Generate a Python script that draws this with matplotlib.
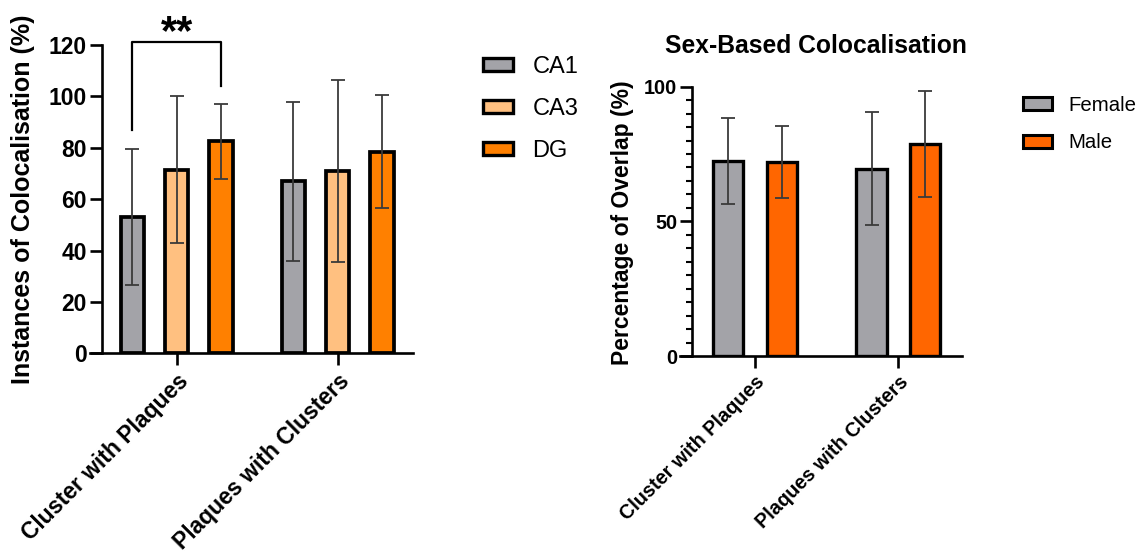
import numpy as np
import matplotlib
matplotlib.use("Agg")
import matplotlib.pyplot as plt
from matplotlib.patches import Patch

plt.rcParams['font.family'] = ['Liberation Sans', 'DejaVu Sans']
plt.rcParams['font.weight'] = 'bold'

# Data
groups = ["Cluster with Plaques", "Plaques with Clusters"]

regions = ["CA1", "CA3", "DG"]
region_means = [[53, 67], [71.5, 71], [82.5, 78.5]]
region_sd = [[26.5, 31], [28.7, 35.3], [14.5, 22]]
region_colors = ["#A3A3A8", "#FFC080", "#FF8000"]

sexes = ["Female", "Male"]
sex_means = [[72.5, 69.5], [72, 78.7]]
sex_sd = [[16, 21], [13.5, 19.7]]
sex_colors = ["#A3A3A8", "#FF6600"]

W, H = 1147, 554
fig = plt.figure(figsize=(W / 100, H / 100), dpi=100)


def px_axes(x0, x1, ybot, ytop):
    return fig.add_axes([x0 / W, 1 - ybot / H, (x1 - x0) / W, (ybot - ytop) / H])


def style_axes(ax, spine_x, fs):
    for s in ['top', 'right']:
        ax.spines[s].set_visible(False)
    ax.spines['left'].set_position(('data', spine_x))
    for s in ['left', 'bottom']:
        ax.spines[s].set_linewidth(1.9)
    ax.tick_params(axis='y', length=8.5, width=1.9, labelsize=fs, pad=2)
    ax.tick_params(axis='x', length=8.5, width=1.9, pad=3.5)
    ax.set_xticks([0, 1])
    ax.set_xticklabels(groups, rotation=45, ha='right', rotation_mode='anchor',
                       fontsize=fs, fontweight='bold')
    for lab in ax.get_yticklabels():
        lab.set_fontweight('bold')


# ---- Left panel: colocalisation per region
ax1 = px_axes(90, 413, 353.3, 45)
offsets = [-0.275, 0, 0.275]
x = np.arange(len(groups))
for i in range(len(regions)):
    ax1.bar(x + offsets[i], region_means[i], width=0.145, color=region_colors[i],
            edgecolor='black', linewidth=2.7, zorder=2)
    ax1.errorbar(x + offsets[i], region_means[i], yerr=region_sd[i], fmt='none',
                 ecolor='#3a3a3a', elinewidth=1.3, capsize=4.8, capthick=1.3, zorder=3)
ax1.set_xlim(-0.5385, 1.468)
ax1.set_ylim(0, 120)
ax1.set_yticks(np.arange(0, 121, 20))
style_axes(ax1, -0.466, 16.5)

# significance bracket
ax1.plot([offsets[0], offsets[0], offsets[2], offsets[2]], [87, 121, 121, 104],
         color='black', lw=1.6, clip_on=False)
ax1.text(0, 120.5, "**", ha='center', va='baseline', fontsize=30, fontweight='bold')

fig.text(23 / W, 1 - 199 / H, "Instances of Colocalisation (%)", rotation=90,
         ha='center', va='center', fontsize=18, fontweight='bold')

h1 = [Patch(facecolor=c, edgecolor='black', linewidth=2.4) for c in region_colors]
fig.legend(h1, regions, loc='upper left', bbox_to_anchor=(483 / W, 1 - 56 / H),
           frameon=False, handlelength=1.25, handleheight=0.5,
           handletextpad=0.85, labelspacing=0.84, borderpad=0, borderaxespad=0,
           prop={'weight': 'normal', 'size': 17})

# ---- Right panel: sex-based
ax2 = px_axes(680, 961.7, 356, 86.7)
sex_off = [-0.187, 0.187]
for i in range(len(sexes)):
    ax2.bar(x + sex_off[i], sex_means[i], width=0.213, color=sex_colors[i],
            edgecolor='black', linewidth=2.4, zorder=2)
    ax2.errorbar(x + sex_off[i], sex_means[i], yerr=sex_sd[i], fmt='none',
                 ecolor='#3a3a3a', elinewidth=1.3, capsize=5, capthick=1.3, zorder=3)
ax2.set_xlim(-0.523, 1.442)
ax2.set_ylim(0, 100)
ax2.set_yticks([0, 50, 100])
ax2.set_yticks(np.arange(0, 101, 5), minor=True)
style_axes(ax2, -0.442, 14.3)
ax2.tick_params(axis='y', which='minor', length=4.5, width=1.5)

fig.text(816 / W, 1 - 53 / H, "Sex-Based Colocalisation", ha='center', va='baseline',
         fontsize=17.7, fontweight='bold')
fig.text(623 / W, 1 - 223 / H, "Percentage of Overlap (%)", rotation=90,
         ha='center', va='center', fontsize=16.5, fontweight='bold')

h2 = [Patch(facecolor=c, edgecolor='black', linewidth=2.2) for c in sex_colors]
fig.legend(h2, sexes, loc='upper left', bbox_to_anchor=(1023 / W, 1 - 96 / H),
           frameon=False, handlelength=1.4, handleheight=0.6,
           handletextpad=0.8, labelspacing=0.9, borderpad=0, borderaxespad=0,
           prop={'weight': 'normal', 'size': 14.7})

fig.savefig("out.png", dpi=100)
